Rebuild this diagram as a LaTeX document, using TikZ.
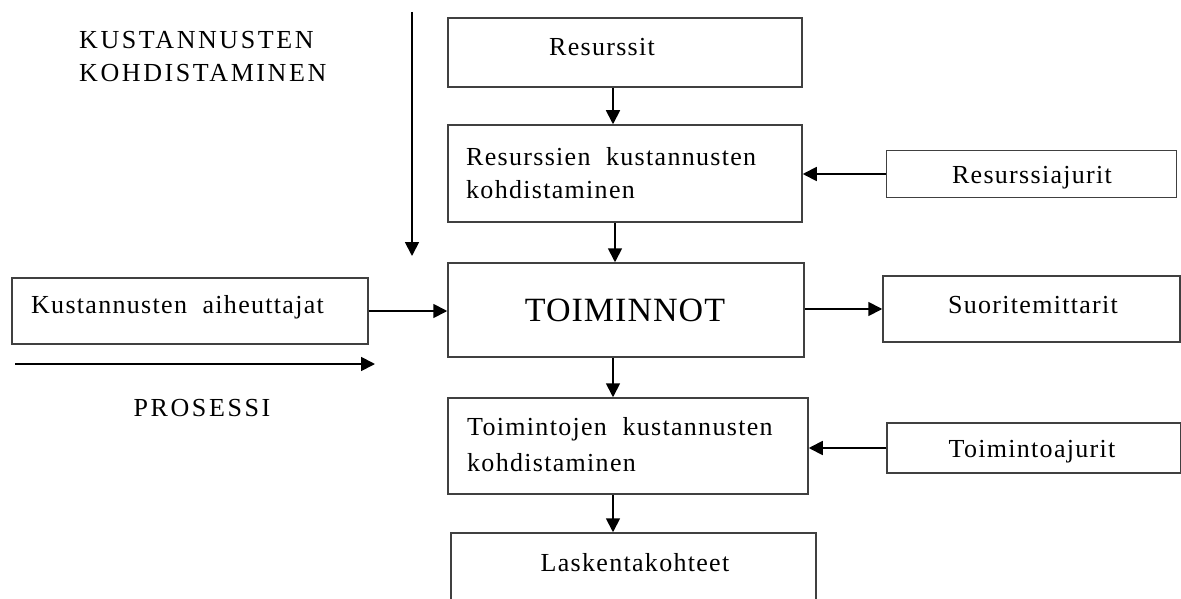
\documentclass[tikz,border=0pt]{standalone}
\usepackage{fontspec}
\setmainfont[WordSpace=2]{Liberation Serif}
\newfontfamily\bodyfont[WordSpace=2,LetterSpace=5]{Liberation Serif}
\newfontfamily\capsfont[WordSpace=2,LetterSpace=10]{Liberation Serif}
\newfontfamily\headfont[LetterSpace=3]{Liberation Serif}
\usetikzlibrary{arrows.meta}
\begin{document}
\begin{tikzpicture}[x=1pt,y=-1pt,
  box/.style={draw=black!75,line width=1.5pt,rectangle,inner sep=0pt},
  lbl/.style={inner sep=0pt,font=\bodyfont\fontsize{26}{30}\selectfont},
  arr/.style={line width=1.8pt,-{Triangle[length=14pt,width=14pt]}}]
\clip (0,0) rectangle (1181,599);
\fill[white] (0,0) rectangle (1181,599);

% main column
\node[box,minimum width=354pt,minimum height=69pt] (res) at (625,52.5) {};
\node[lbl] (resT) at (602,47) {Resurssit};

\node[box,minimum width=354pt,minimum height=97pt] (rk) at (625,173.5) {};
\node[lbl,anchor=west,align=left,font=\bodyfont\fontsize{26}{33}\selectfont] (rkT) at (466,173) {Resurssien kustannusten\\kohdistaminen};

\node[box,minimum width=356pt,minimum height=94pt] (toim) at (626,310) {};
\node[lbl,font=\headfont\fontsize{34}{38}\selectfont] (toimT) at (625,310) {TOIMINNOT};

\node[box,minimum width=360pt,minimum height=96pt] (tk) at (628,446) {};
\node[lbl,anchor=west,align=left,font=\bodyfont\fontsize{26}{36}\selectfont] (tkT) at (467,445) {Toimintojen kustannusten\\kohdistaminen};

\node[box,minimum width=365pt,minimum height=90pt] (lk) at (633.5,578) {};
\node[lbl] (lkT) at (635,563) {Laskentakohteet};

% side boxes
\node[box,minimum width=290pt,minimum height=47pt] (ra) at (1031.5,174) {};
\node[lbl] (raT) at (1032,178) {Resurssiajurit};

\node[box,minimum width=297pt,minimum height=66pt] (sm) at (1031.5,309) {};
\node[lbl] (smT) at (1033,305) {Suoritemittarit};

\node[box,minimum width=294pt,minimum height=50pt] (ta) at (1034,448) {};
\node[lbl] (taT) at (1032,452) {Toimintoajurit};

\node[box,minimum width=356pt,minimum height=66pt] (ka) at (190,311) {};
\node[lbl,anchor=west] (kaT) at (31,307) {Kustannusten aiheuttajat};

% flow arrows
\draw[arr] ([xshift=-12pt]res.south) -- ([xshift=-12pt]rk.north);
\draw[arr] ([xshift=-10pt]rk.south) -- ([xshift=-11pt]toim.north);
\draw[arr] ([xshift=-13pt]toim.south) -- ([xshift=-15pt]tk.north);
\draw[arr] ([xshift=-15pt]tk.south) -- ([xshift=-20.5pt]lk.north);
\draw[arr] (ra.west) -- (rk.east |- ra.west);
\draw[arr] (toim.east |- sm.west) -- (sm.west);
\draw[arr] (ta.west) -- (tk.east |- ta.west);
\draw[arr] (ka.east) -- (toim.west |- ka.east);

% dimension arrows
\coordinate (kTop) at (412,12);
\coordinate (kBot) at (412,256);
\draw[arr] (kTop) -- (kBot);
\node[lbl,anchor=west,align=left,font=\capsfont\fontsize{26}{33}\selectfont] (kkT) at (79,57) {KUSTANNUSTEN\\KOHDISTAMINEN};

\coordinate (pL) at (15,364);
\coordinate (pR) at (375,364);
\draw[arr] (pL) -- (pR);
\node[lbl,font=\capsfont\fontsize{26}{30}\selectfont] (pT) at (202,408) {PROSESSI};
\end{tikzpicture}
\end{document}
